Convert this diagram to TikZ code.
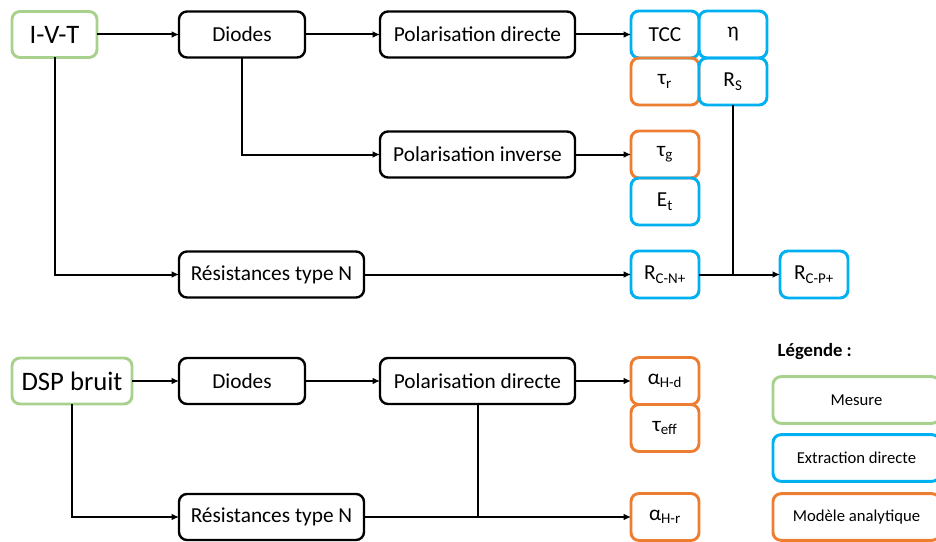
\documentclass[tikz,border=0pt]{standalone}
\usepackage{fontspec}
\setmainfont{Carlito}
\usepackage{xcolor}
\definecolor{mesurecol}{HTML}{A9D18E}
\definecolor{extrcol}{HTML}{00B0F0}
\definecolor{modcol}{HTML}{ED7D31}
\usepackage{tikz}
\usetikzlibrary{arrows.meta, positioning}

\begin{document}
\begin{tikzpicture}[
    x=0.75pt, y=-0.75pt,
    node distance=0pt,
    base/.style={rounded corners=6pt, align=center, font=\fontsize{16}{18}\selectfont, inner sep=2pt, outer sep=0pt, minimum height=34.5pt},
    bloc/.style={base, draw=black, line width=1.8pt},
    mesure/.style={base, draw=mesurecol, line width=2.2pt, font=\fontsize{20}{22}\selectfont},
    extr/.style={base, draw=extrcol, line width=2.2pt, minimum width=51pt, minimum height=35.25pt},
    modele/.style={base, draw=modcol, line width=2.2pt, minimum width=51pt, minimum height=35.25pt},
    legbox/.style={minimum width=125.25pt, minimum height=35pt, font=\fontsize{12.5}{14}\selectfont},
    arrow/.style={-{Latex[length=5.5pt,width=5pt]}, line width=1.5pt},
    link/.style={line width=1.5pt}
]
\useasboundingbox (0,0) rectangle (936,542);

% I-V-T branch
\node[mesure, minimum width=63.75pt] (ivt) at (54.5,34.5) {I-V-T};
\node[bloc, minimum width=94.5pt, right=61.5pt of ivt] (diodes1) {Diodes};
\node[bloc, minimum width=146.25pt, right=56.25pt of diodes1] (direct1) {Polarisation directe};
\node[extr, right=42pt of direct1] (tcc) {TCC};
\node[extr, right=of tcc] (eta) {η};
\node[modele, below=of tcc] (taur) {τ\textsubscript{r}};
\node[extr, below=of eta] (rs) {R\textsubscript{S}};
\node[bloc, minimum width=146.25pt, below=55.5pt of direct1] (inverse1) {Polarisation inverse};
\node[modele, right=42pt of inverse1] (taug) {τ\textsubscript{g}};
\node[extr, below=of taug] (et) {E\textsubscript{t}};
\node[bloc, minimum width=138.75pt] (res1) at (271.5,274.5) {Résistances type N};
\node[extr, right=200.25pt of res1] (rcn) {R\textsubscript{C-N+}};
\node[extr, right=60.75pt of rcn] (rcp) {R\textsubscript{C-P+}};

% DSP bruit branch
\node[mesure, minimum width=90pt] (dsp) at (72,381) {DSP bruit};
\node[bloc, minimum width=94.5pt, right=35.25pt of dsp] (diodes2) {Diodes};
\node[bloc, minimum width=146.25pt, right=56.25pt of diodes2] (direct2) {Polarisation directe};
\node[modele, right=42pt of direct2] (ahd) {α\textsubscript{H-d}};
\node[modele, below=of ahd] (teff) {τ\textsubscript{eff}};
\node[bloc, minimum width=138.75pt] (res2) at (271.5,517) {Résistances type N};
\node[modele, right=200.25pt of res2] (ahr) {α\textsubscript{H-r}};

% Legend
\node[anchor=west, font=\bfseries\fontsize{14}{16}\selectfont] (legende) at (773,352) {Légende :};
\node[mesure, legbox] (lmes) at (856.5,400) {Mesure};
\node[extr, legbox] (lext) at (856.5,458) {Extraction directe};
\node[modele, legbox] (lmod) at (856.5,517) {Modèle analytique};

% Connectors
\draw[arrow] (ivt) -- (diodes1);
\draw[arrow] (diodes1) -- (direct1);
\draw[arrow] (direct1) -- (tcc);
\draw[arrow] (diodes1.south) |- (inverse1.west);
\draw[arrow] (inverse1) -- (taug);
\draw[arrow] (ivt.south) |- (res1.west);
\draw[arrow] (res1) -- (rcn);
\draw[arrow] (rcn) -- (rcp);
\draw[link] (rs.south) -- (rs.south |- rcn.east);

\draw[arrow] (dsp) -- (diodes2);
\draw[arrow] (diodes2) -- (direct2);
\draw[arrow] (direct2) -- (ahd);
\draw[arrow] (dsp.south) |- (res2.west);
\draw[arrow] (res2) -- (ahr);
\draw[link] (direct2.south) -- (direct2.south |- res2.east);

\end{tikzpicture}
\end{document}
